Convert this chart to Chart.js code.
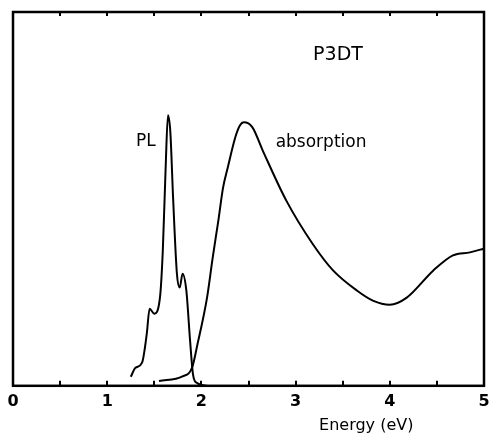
<!DOCTYPE html>
<html>
<head>
<meta charset="utf-8">
<script src="https://cdn.jsdelivr.net/npm/chart.js@4.4.1/dist/chart.umd.min.js"></script>
<style>
  html, body { margin: 0; padding: 0; background: #fff; }
  #wrap { width: 489px; height: 433px; }
</style>
</head>
<body>
<div id="wrap"><canvas id="canvas-chart"></canvas></div>
<script>
'use strict'

// photoluminescence spectrum (energy in eV, intensity in arbitrary units)
let plEnergy = [1.25, 1.30, 1.37, 1.42, 1.45, 1.50, 1.56, 1.59, 1.62, 1.645, 1.67, 1.70, 1.74, 1.77, 1.80, 1.84, 1.88, 1.91, 1.95, 2.06];
let plIntensity = [2.4, 4.8, 6.2, 13.9, 20.6, 19.3, 23.6, 36, 58, 72.4, 68, 50, 30, 26.3, 30, 25.5, 12, 3.2, 0.8, 0];

// absorption spectrum
let absEnergy = [1.55, 1.80, 1.90, 1.96, 2.06, 2.12, 2.18, 2.23, 2.28, 2.36, 2.41, 2.45, 2.54, 2.65, 2.90, 3.18, 3.40, 3.65, 3.82, 4.00, 4.18, 4.46, 4.67, 4.85, 5.0];
let absIntensity = [1.3, 2.5, 4.8, 11.3, 23.6, 34.3, 44.2, 53, 58.4, 66.5, 69.7, 70.5, 69.2, 63, 49.6, 38, 30.8, 25.5, 22.8, 21.7, 23.6, 30.8, 34.9, 35.7, 36.7];

// text written inside the frame
let noteText = ["P3DT", "PL", "absorption", "Energy (eV)"];
let noteX = [3.45, 1.41, 3.27, 3.75];
let noteY = [88.5, 65.4, 65.1, -10.7];
let noteSize = [19, 17, 17, 16];

function toPoints(xs, ys) {
    return xs.map(function (v, i) {
        return { x: v, y: ys[i] };
    });
}

let frameAndNotes = {
    id: "frameAndNotes",
    afterDraw: function (chart) {
        let ctx = chart.ctx;
        let a = chart.chartArea;
        let x = chart.scales.x;
        let y = chart.scales.y;
        ctx.save();
        ctx.strokeStyle = "#000";
        ctx.lineWidth = 2.5;
        ctx.strokeRect(a.left, a.top, a.right - a.left, a.bottom - a.top);

        // small inward ticks on top and bottom edges
        ctx.lineWidth = 2;
        x.ticks.forEach(function (t) {
            if (t.value <= x.min || t.value >= x.max) return;
            let px = Math.round(x.getPixelForValue(t.value));
            ctx.beginPath();
            ctx.moveTo(px, a.bottom);
            ctx.lineTo(px, a.bottom - 5);
            ctx.moveTo(px, a.top);
            ctx.lineTo(px, a.top + 4);
            ctx.stroke();
        });

        ctx.fillStyle = "#000";
        ctx.textAlign = "center";
        ctx.textBaseline = "middle";
        noteText.forEach(function (txt, i) {
            ctx.font = noteSize[i] + "px 'DejaVu Sans'";
            ctx.fillText(txt, x.getPixelForValue(noteX[i]), y.getPixelForValue(noteY[i]));
        });
        ctx.restore();
    },
};

let chart = document.getElementById("canvas-chart").getContext("2d");

let chart1 = new Chart(chart, {
    type: "line",
    data: {
        datasets: [
            {
                label: "PL",
                data: toPoints(plEnergy, plIntensity),
                borderColor: "#000",
                borderWidth: 2,
                pointRadius: 0,
                cubicInterpolationMode: "monotone",
                fill: false,
            },
            {
                label: "absorption",
                data: toPoints(absEnergy, absIntensity),
                borderColor: "#000",
                borderWidth: 2,
                pointRadius: 0,
                cubicInterpolationMode: "monotone",
                fill: false,
            },
        ],
    },
    options: {
        responsive: true,
        maintainAspectRatio: false,
        animation: false,
        layout: {
            padding: { left: 13, right: 5, top: 12, bottom: 16 },
        },
        plugins: {
            legend: { display: false },
            tooltip: { enabled: false },
        },
        scales: {
            x: {
                type: "linear",
                min: 0,
                max: 5,
                grid: { display: false, drawTicks: false },
                border: { display: false },
                afterFit: function (scale) {
                    // let the end labels hang over the edges like the original
                    scale.paddingLeft = 0;
                    scale.paddingRight = 0;
                },
                ticks: {
                    stepSize: 0.5,
                    autoSkip: false,
                    maxRotation: 0,
                    padding: 6,
                    color: "#000",
                    font: { family: "'DejaVu Sans'", size: 16, weight: "bold" },
                    callback: function (v) {
                        return Number.isInteger(v) ? String(v) : "";
                    },
                },
            },
            y: {
                display: false,
                min: 0,
                max: 100,
            },
        },
    },
    plugins: [frameAndNotes],
});
</script>
</body>
</html>
